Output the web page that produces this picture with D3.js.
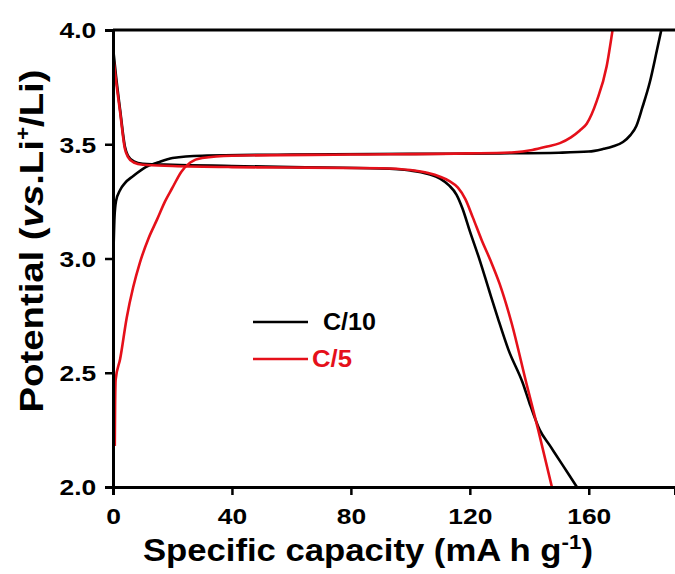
<!DOCTYPE html>
<html>
<head>
<meta charset="utf-8">
<script src="https://cdn.jsdelivr.net/npm/d3@7"></script>
<style>
  body { margin: 0; background: #fff; }
  text { font-family: "Liberation Sans", Arial, sans-serif; font-weight: bold; }
</style>
</head>
<body>
<div id="chart"></div>
<script>
var svgWidth = 675;
var svgHeight = 574;

var margin = { top: 30, right: 0, bottom: 87, left: 113 };
var width = svgWidth - margin.left - margin.right;
var height = svgHeight - margin.top - margin.bottom;

// charge / discharge curves, [capacity mA h/g, potential V]
var c10Charge = [
  [0.2, 3.05], [0.5, 3.18], [1, 3.25], [2.4, 3.30], [4, 3.33], [6.7, 3.36],
  [11, 3.40], [15, 3.42], [20, 3.44], [30, 3.45], [60, 3.455], [100, 3.458],
  [130, 3.46], [150, 3.463], [160, 3.468], [165, 3.48], [168, 3.49],
  [171.5, 3.51], [174, 3.54], [176, 3.58], [178, 3.66], [180.5, 3.77],
  [182.9, 3.91], [184.4, 4.0]
];
var c10Discharge = [
  [0.2, 3.90], [1, 3.80], [2.4, 3.65], [4, 3.49], [5, 3.45], [7, 3.425],
  [10, 3.415], [20, 3.41], [40, 3.405], [60, 3.40], [90, 3.394], [100, 3.385],
  [106, 3.37], [110, 3.35], [113, 3.32], [115.5, 3.28], [117.5, 3.22],
  [120, 3.12], [123.4, 2.99], [126.5, 2.86], [129.4, 2.74], [133, 2.60],
  [137.8, 2.455], [140, 2.37], [143.5, 2.25], [147, 2.18], [151, 2.10], [156, 2.0]
];
var c5Charge = [
  [0.6, 2.18], [0.7, 2.35], [0.9, 2.47], [2.4, 2.56], [4.6, 2.74],
  [6.8, 2.875], [9, 2.98], [12, 3.09], [14.8, 3.17], [17.5, 3.25], [20, 3.31],
  [23, 3.38], [26, 3.42], [30, 3.44], [40, 3.45], [80, 3.455], [120, 3.46],
  [135, 3.465], [141, 3.475], [146, 3.49], [150.3, 3.505], [154, 3.53],
  [157, 3.56], [159.3, 3.59], [162.7, 3.69], [166, 3.84], [168, 4.0]
];
var c5Discharge = [
  [0.2, 3.87], [1, 3.78], [2.4, 3.64], [4, 3.48], [5, 3.445], [7, 3.42],
  [10, 3.41], [20, 3.405], [40, 3.40], [60, 3.398], [90, 3.395], [100, 3.387],
  [106, 3.374], [110, 3.358], [113, 3.34], [116, 3.31], [118.5, 3.26],
  [121, 3.18], [124, 3.08], [127, 2.99], [130, 2.89], [134, 2.72],
  [139, 2.455], [143, 2.25], [147.6, 2.0]
];

var seriesNames = ["C/10", "C/5"];
var seriesColors = ["#000000", "#e5101a"];
var xTicks = [0, 40, 80, 120, 160];
var yTicks = [2.0, 2.5, 3.0, 3.5, 4.0];

var svg = d3.select("#chart")
  .append("svg")
  .attr("width", svgWidth)
  .attr("height", svgHeight);

var chartGroup = svg.append("g")
  .attr("transform", `translate(${margin.left}, ${margin.top})`);

var xScale = d3.scaleLinear().domain([0, 189]).range([0, width]);
var yScale = d3.scaleLinear().domain([2.0, 4.0]).range([height, 0]);

var line = d3.line()
  .x(d => xScale(d[0]))
  .y(d => yScale(d[1]))
  .curve(d3.curveMonotoneX);

var curves = [
  { data: c10Charge, color: seriesColors[0] },
  { data: c10Discharge, color: seriesColors[0] },
  { data: c5Charge, color: seriesColors[1] },
  { data: c5Discharge, color: seriesColors[1] }
];

chartGroup.selectAll(".curve")
  .data(curves)
  .enter()
  .append("path")
  .attr("class", "curve")
  .attr("d", d => line(d.data))
  .attr("fill", "none")
  .attr("stroke", d => d.color)
  .attr("stroke-width", 2.6);

// axes
var xAxis = d3.axisBottom(xScale).tickValues(xTicks).tickSize(8).tickFormat(d3.format("d"));
var yAxis = d3.axisLeft(yScale).tickValues(yTicks).tickSize(8).tickFormat(d3.format(".1f"));

var xg = chartGroup.append("g")
  .attr("transform", `translate(0, ${height})`)
  .call(xAxis);
var yg = chartGroup.append("g").call(yAxis);

// top border
chartGroup.append("line")
  .attr("x1", 0).attr("x2", width)
  .attr("y1", 0).attr("y2", 0)
  .attr("stroke", "#000").attr("stroke-width", 3);

[xg, yg].forEach(function(g) {
  g.select(".domain").attr("stroke-width", 3).attr("stroke", "#000");
  g.selectAll(".tick line").attr("stroke-width", 2.5).attr("stroke", "#000");
  g.selectAll(".tick text")
    .attr("fill", "#000")
    .style("font-size", "22px")
    .style("font-family", "'Liberation Sans', Arial, sans-serif")
    .style("font-weight", "bold");
});
xg.selectAll(".tick text").attr("y", 21).attr("dy", "0.72em").attr("transform", "scale(1.2,1)");
yg.selectAll(".tick text").attr("x", -14).attr("dy", "0.36em").attr("transform", "scale(1.2,1)");

// x axis title
var xTitle = svg.append("text")
  .attr("x", 368)
  .attr("y", 561)
  .attr("text-anchor", "middle")
  .attr("textLength", 450)
  .attr("lengthAdjust", "spacingAndGlyphs")
  .style("font-size", "31px");
xTitle.append("tspan").text("Specific capacity (mA h g");
xTitle.append("tspan").attr("dy", -12).style("font-size", "20px").text("-1");
xTitle.append("tspan").attr("dy", 12).text(")");

// y axis title
var yTitle = svg.append("text")
  .attr("transform", "translate(43, 241) rotate(-90)")
  .attr("text-anchor", "middle")
  .attr("textLength", 343)
  .attr("lengthAdjust", "spacingAndGlyphs")
  .style("font-size", "34px");
yTitle.append("tspan").text("Potential (");
yTitle.append("tspan").style("font-style", "italic").text("vs");
yTitle.append("tspan").text(".Li");
yTitle.append("tspan").attr("dy", -13).style("font-size", "20px").text("+");
yTitle.append("tspan").attr("dy", 13).text("/Li)");

// legend
var legendY = [322, 359];
var legendTextX = [323, 312];
var legendTextW = [53, 40];
var legend = svg.append("g");
seriesNames.forEach(function(name, i) {
  legend.append("line")
    .attr("x1", 253).attr("x2", 308)
    .attr("y1", legendY[i]).attr("y2", legendY[i])
    .attr("stroke", seriesColors[i])
    .attr("stroke-width", 2.6);
  legend.append("text")
    .attr("x", legendTextX[i])
    .attr("y", legendY[i] + 8)
    .attr("fill", seriesColors[i])
    .attr("textLength", legendTextW[i])
    .attr("lengthAdjust", "spacingAndGlyphs")
    .style("font-size", "23px")
    .text(name);
});
</script>
</body>
</html>
